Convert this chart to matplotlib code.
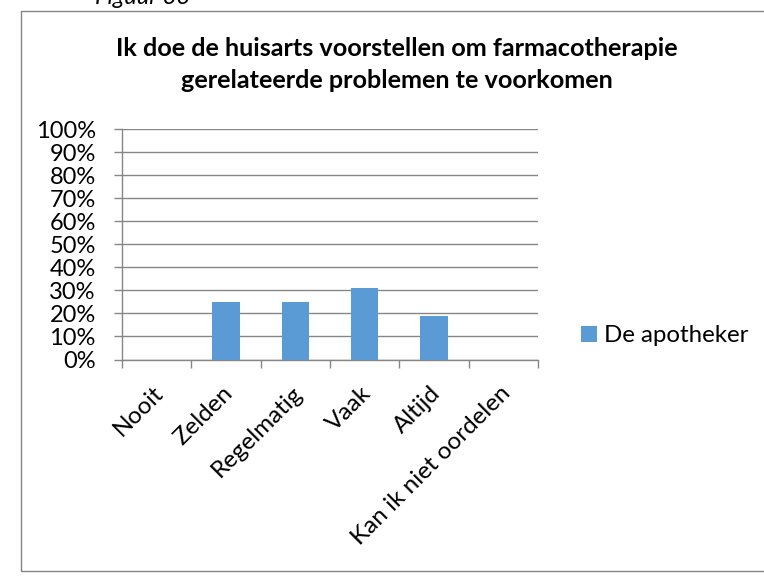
import matplotlib
matplotlib.use("Agg")
import matplotlib.pyplot as plt
import matplotlib.transforms as mtransforms
from matplotlib.patches import Rectangle
from matplotlib.ticker import FixedLocator, PercentFormatter

categories = ["Nooit", "Zelden", "Regelmatig", "Vaak", "Altijd", "Kan ik niet oordelen"]
values = [0, 25, 25, 31.25, 18.75, 0]
series_name = "De apotheker"
title = "Ik doe de huisarts voorstellen om farmacotherapie\ngerelateerde problemen te voorkomen"
caption = "Figuur 33"

plt.rcParams['font.family'] = ['Lato', 'DejaVu Sans']

W, H = 764, 578
fig = plt.figure(figsize=(W / 100, H / 100), dpi=100)

# axes box in pixels
left, right, top, bottom = 122, 538, 129.3, 359.5
ax = fig.add_axes([left / W, 1 - bottom / H, (right - left) / W, (bottom - top) / H])

gray = '#868686'
bar_color = '#5B9BD5'

x = list(range(len(categories)))
bars = ax.bar(x, values, width=0.39, color=bar_color, label=series_name, zorder=3)

ax.set_xlim(-0.5, len(categories) - 0.5)
ax.set_ylim(0, 100)
ax.set_yticks(range(0, 101, 10))
ax.yaxis.set_major_formatter(PercentFormatter(decimals=0))
ax.grid(axis='y', color=gray, linewidth=1.0, zorder=0)
ax.set_axisbelow(True)

for s in ['top', 'right']:
    ax.spines[s].set_visible(False)
for s in ['left', 'bottom']:
    ax.spines[s].set_color(gray)
    ax.spines[s].set_linewidth(1.0)

ax.tick_params(axis='y', length=6.1, width=1.0, color=gray, pad=12.7, labelsize=17)

# x: labels at centers (no tick), tick marks at boundaries
ax.set_xticks(x)
ax.set_xticklabels(categories, rotation=45, ha='right', va='center', rotation_mode='anchor', fontsize=17.5)
ax.tick_params(axis='x', which='major', length=0, pad=22)
ax.xaxis.set_minor_locator(FixedLocator([i - 0.5 for i in range(len(categories) + 1)]))
ax.tick_params(axis='x', which='minor', length=6.1, width=1.0, color=gray)
offset = mtransforms.ScaledTranslation(3.5 / 100, 0, fig.dpi_scale_trans)
for lab in ax.get_xticklabels():
    lab.set_transform(lab.get_transform() + offset)

# legend
ax.legend(loc='center left', bbox_to_anchor=(581 / W, 1 - 335.5 / H), bbox_transform=fig.transFigure,
          frameon=False, fontsize=17.3, handlelength=0.65, handleheight=0.65, handletextpad=0.3,
          borderpad=0, borderaxespad=0)

# title
fig.text(397 / W, 1 - 55.7 / H, title.split("\n")[0], ha='center', va='baseline', fontsize=18.2, fontweight='bold')
fig.text(397 / W, 1 - 88.3 / H, title.split("\n")[1], ha='center', va='baseline', fontsize=18.2, fontweight='bold')

# chart border
fig.patches.append(Rectangle((21 / W, 1 - 571 / H), 1.0, (571 - 10.5) / H, transform=fig.transFigure,
                             fill=False, edgecolor=gray, linewidth=1.0))

# caption cut off at top (as in the reference)
fig.text(95 / W, 1 - 4.3 / H, caption, ha='left', va='baseline', fontsize=17, style='italic')

fig.savefig('out.png', dpi=100)
